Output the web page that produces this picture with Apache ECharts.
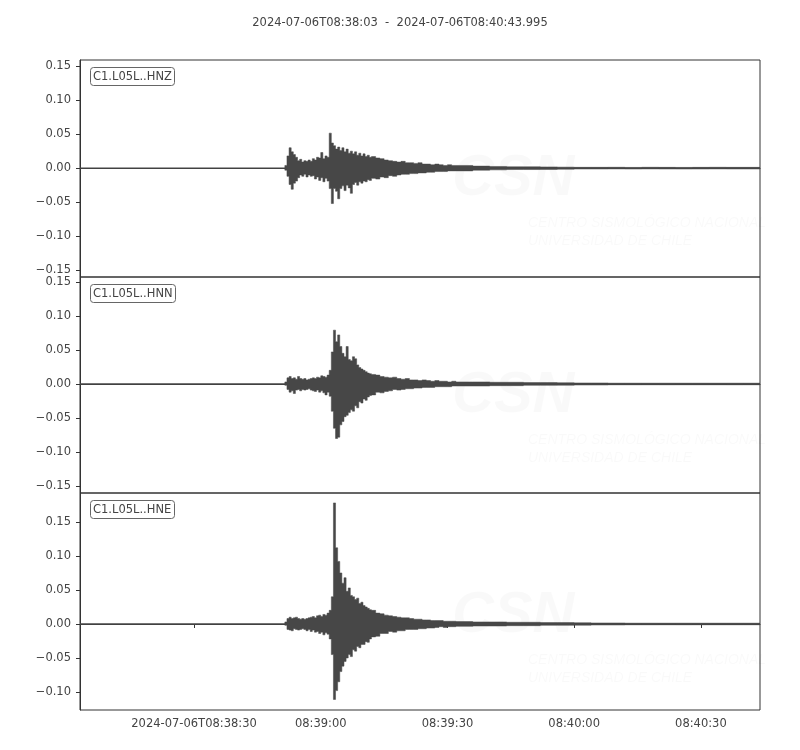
<!DOCTYPE html>
<html>
<head>
<meta charset="utf-8">
<script src="https://cdn.jsdelivr.net/npm/echarts@6/dist/echarts.min.js"></script>
<style>
  html, body { margin: 0; padding: 0; background: #fff; }
  #chart { width: 800px; height: 750px; }
</style>
</head>
<body>
<div id="chart"></div>
<script>
// seconds after 08:38:00
const tStart = 3;
const tEnd = 163.995;
const titleText = '2024-07-06T08:38:03  -  2024-07-06T08:40:43.995';
const channels = ['C1.L05L..HNZ', 'C1.L05L..HNN', 'C1.L05L..HNE'];

const xTickValues = [30, 60, 90, 120, 150];
const xTickLabels = ['2024-07-06T08:38:30', '08:39:00', '08:39:30', '08:40:00', '08:40:30'];

const yRanges = [[-0.160, 0.159], [-0.160, 0.157], [-0.1265, 0.1926]];
const yTicks = [
  [-0.15, -0.1, -0.05, 0, 0.05, 0.1, 0.15],
  [-0.15, -0.1, -0.05, 0, 0.05, 0.1, 0.15],
  [-0.1, -0.05, 0, 0.05, 0.1, 0.15]
];

// envelope bins (start time, s after 08:38:00); each bin ends where the next starts
const binStart = [
  51.5, 52, 52.5, 53, 53.5, 54, 54.5, 55, 55.5, 56, 56.5, 57, 57.5, 58, 58.5, 59, 59.5, 60, 60.5, 61,
  61.5, 62, 62.5, 63, 63.5, 64, 64.5, 65, 65.5, 66, 66.5, 67, 67.5, 68, 68.5, 69, 69.5, 70, 70.5, 71, 71.5,
  72, 73, 74, 75, 76, 77, 78, 79, 80, 81, 82, 83, 84, 85, 86, 87, 88, 89, 90, 91,
  92, 96, 100, 104, 108, 112, 116, 120, 124, 128, 132, 136, 140, 144, 148, 152, 156, 160
];

const hnzUp = [
  0.004, 0.018, 0.030, 0.024, 0.020, 0.016, 0.011, 0.013, 0.009, 0.011, 0.010, 0.012, 0.010, 0.014, 0.012, 0.016, 0.015, 0.023, 0.014, 0.018,
  0.016, 0.0515, 0.037, 0.033, 0.028, 0.031, 0.026, 0.030, 0.024, 0.028, 0.022, 0.025, 0.021, 0.024, 0.019, 0.022, 0.018, 0.021, 0.017, 0.019, 0.016,
  0.017, 0.015, 0.014, 0.012, 0.011, 0.010, 0.009, 0.010, 0.008, 0.008, 0.007, 0.008, 0.006, 0.006, 0.005, 0.006, 0.005, 0.004, 0.005, 0.004,
  0.004, 0.003, 0.0025, 0.002, 0.002, 0.0018, 0.0015, 0.0012, 0.0012, 0.0012, 0.001, 0.0012, 0.001, 0.001, 0.001, 0.0012, 0.001, 0.001
];
const hnzLow = [
  -0.003, -0.012, -0.024, -0.031, -0.022, -0.019, -0.014, -0.010, -0.012, -0.009, -0.013, -0.010, -0.012, -0.011, -0.016, -0.013, -0.018, -0.014, -0.020, -0.015,
  -0.019, -0.030, -0.052, -0.030, -0.034, -0.045, -0.030, -0.026, -0.033, -0.025, -0.029, -0.037, -0.024, -0.021, -0.025, -0.020, -0.022, -0.019, -0.020, -0.017, -0.018,
  -0.015, -0.016, -0.013, -0.014, -0.011, -0.012, -0.010, -0.009, -0.009, -0.008, -0.008, -0.007, -0.007, -0.006, -0.006, -0.005, -0.005, -0.005, -0.004, -0.004,
  -0.004, -0.003, -0.0025, -0.002, -0.002, -0.0018, -0.0015, -0.0012, -0.0012, -0.001, -0.0012, -0.001, -0.001, -0.0012, -0.001, -0.001, -0.001, -0.001
];

const hnnUp = [
  0.003, 0.009, 0.011, 0.008, 0.009, 0.007, 0.011, 0.008, 0.007, 0.008, 0.006, 0.007, 0.008, 0.009, 0.008, 0.010, 0.009, 0.012, 0.011, 0.010,
  0.013, 0.020, 0.047, 0.079, 0.062, 0.072, 0.055, 0.045, 0.040, 0.055, 0.036, 0.034, 0.040, 0.037, 0.028, 0.024, 0.022, 0.020, 0.018, 0.016, 0.015,
  0.014, 0.013, 0.011, 0.010, 0.009, 0.010, 0.008, 0.007, 0.008, 0.006, 0.006, 0.005, 0.006, 0.005, 0.004, 0.005, 0.004, 0.004, 0.003, 0.004,
  0.003, 0.003, 0.0025, 0.0025, 0.002, 0.002, 0.0018, 0.0015, 0.0015, 0.0012, 0.0012, 0.001, 0.0012, 0.001, 0.001, 0.001, 0.0012, 0.001
];
const hnnLow = [
  -0.002, -0.008, -0.012, -0.010, -0.014, -0.009, -0.008, -0.010, -0.008, -0.009, -0.008, -0.007, -0.009, -0.010, -0.011, -0.009, -0.012, -0.010, -0.013, -0.016,
  -0.012, -0.018, -0.040, -0.065, -0.080, -0.078, -0.060, -0.055, -0.048, -0.046, -0.042, -0.038, -0.040, -0.032, -0.035, -0.026, -0.028, -0.022, -0.024, -0.019, -0.017,
  -0.016, -0.012, -0.013, -0.011, -0.010, -0.008, -0.009, -0.008, -0.007, -0.007, -0.006, -0.006, -0.005, -0.005, -0.005, -0.004, -0.004, -0.004, -0.004, -0.003,
  -0.003, -0.003, -0.0025, -0.0025, -0.002, -0.002, -0.0018, -0.0015, -0.0015, -0.0012, -0.0012, -0.001, -0.0012, -0.001, -0.001, -0.001, -0.0012, -0.001
];

const hneUp = [
  0.003, 0.008, 0.010, 0.008, 0.009, 0.010, 0.008, 0.007, 0.008, 0.007, 0.008, 0.009, 0.010, 0.011, 0.009, 0.012, 0.013, 0.011, 0.014, 0.013,
  0.016, 0.020, 0.040, 0.178, 0.112, 0.092, 0.075, 0.060, 0.068, 0.048, 0.053, 0.042, 0.040, 0.036, 0.038, 0.030, 0.032, 0.027, 0.025, 0.023, 0.021,
  0.020, 0.016, 0.015, 0.013, 0.012, 0.011, 0.010, 0.009, 0.009, 0.008, 0.007, 0.007, 0.006, 0.006, 0.005, 0.005, 0.005, 0.004, 0.004, 0.004,
  0.0035, 0.003, 0.003, 0.0025, 0.0025, 0.002, 0.002, 0.0018, 0.0015, 0.0015, 0.0012, 0.0012, 0.001, 0.0012, 0.001, 0.001, 0.001, 0.001
];
const hneLow = [
  -0.002, -0.008, -0.009, -0.010, -0.007, -0.008, -0.009, -0.008, -0.007, -0.008, -0.010, -0.008, -0.011, -0.009, -0.012, -0.011, -0.014, -0.012, -0.016, -0.013,
  -0.015, -0.022, -0.045, -0.111, -0.098, -0.085, -0.070, -0.062, -0.055, -0.050, -0.045, -0.048, -0.038, -0.040, -0.033, -0.035, -0.030, -0.030, -0.026, -0.027, -0.022,
  -0.019, -0.018, -0.014, -0.014, -0.011, -0.012, -0.010, -0.010, -0.008, -0.008, -0.008, -0.007, -0.007, -0.006, -0.006, -0.005, -0.004, -0.005, -0.004, -0.004,
  -0.0035, -0.003, -0.003, -0.0025, -0.0025, -0.002, -0.002, -0.0018, -0.0015, -0.0015, -0.0012, -0.0012, -0.001, -0.0012, -0.001, -0.001, -0.001, -0.001
];

const envelopes = [[hnzLow, hnzUp], [hnnLow, hnnUp], [hneLow, hneUp]];

const FONT = '"DejaVu Sans", sans-serif';
const INK = '#444';
const WAVE = '#474747';
const gridTops = [60, 277, 493];
const gridHeights = [217, 216, 217];

function binData(low, up) {
  return binStart.map((s, i) => [s, i + 1 < binStart.length ? binStart[i + 1] : tEnd, low[i], up[i]]);
}

// one filled polygon per panel: stepped upper envelope, back along the stepped lower one
function renderEnvelope(params, api) {
  if (params.dataIndex !== 0) return null;
  const n = binStart.length;
  const top = [];
  const bottom = [];
  for (let i = 0; i < n; i++) {
    const a = api.value(0, i), b = api.value(1, i);
    let yu = api.coord([a, api.value(3, i)])[1];
    let yl = api.coord([a, api.value(2, i)])[1];
    if (yl - yu < 1.6) {
      const c = (yl + yu) / 2;
      yu = c - 0.8; yl = c + 0.8;
    }
    const xa = api.coord([a, 0])[0];
    const xb = api.coord([b, 0])[0];
    top.push([xa, yu], [xb, yu]);
    bottom.push([xa, yl], [xb, yl]);
  }
  return {
    type: 'polygon',
    shape: { points: top.concat(bottom.reverse()) },
    style: { fill: WAVE, stroke: WAVE, lineWidth: 0.5 }
  };
}

const fmtY = v => (v < 0 ? '\u2212' : '') + Math.abs(v).toFixed(2);

const chart = echarts.init(document.getElementById('chart'), null, { renderer: 'canvas' });

const grid = gridTops.map((top, i) => ({
  left: 80, right: 40, top: top, height: gridHeights[i],
  show: true, borderColor: '#333', borderWidth: 1, backgroundColor: 'transparent'
}));

const xAxis = gridTops.map((_, i) => ({
  type: 'value', gridIndex: i, min: tStart, max: tEnd,
  splitLine: { show: false },
  axisLine: { show: true, lineStyle: { color: '#333', width: 1 } },
  axisTick: { show: i === 2, length: 4, customValues: xTickValues, lineStyle: { color: '#333' } },
  axisLabel: {
    show: i === 2, customValues: xTickValues, margin: 8,
    color: INK, fontFamily: FONT, fontSize: 11.5,
    formatter: v => xTickLabels[xTickValues.indexOf(v)] || ''
  }
}));

const yAxis = gridTops.map((_, i) => ({
  type: 'value', gridIndex: i, min: yRanges[i][0], max: yRanges[i][1],
  splitLine: { show: false },
  axisLine: { show: true, lineStyle: { color: '#333', width: 1 } },
  axisTick: { show: true, length: 4, customValues: yTicks[i], lineStyle: { color: '#333' } },
  axisLabel: {
    customValues: yTicks[i], margin: 9,
    color: INK, fontFamily: FONT, fontSize: 11.5, formatter: fmtY
  }
}));

const series = [];
envelopes.forEach(([low, up], i) => {
  series.push({
    type: 'line', xAxisIndex: i, yAxisIndex: i, symbol: 'none', silent: true,
    lineStyle: { color: WAVE, width: 1.4 },
    data: [[tStart, 0], [tEnd, 0]], z: 3
  });
  series.push({
    type: 'custom', xAxisIndex: i, yAxisIndex: i, silent: true, clip: true,
    renderItem: renderEnvelope,
    encode: { x: [0, 1], y: [2, 3] },
    data: binData(low, up), z: 4
  });
});

const title = [{
  text: titleText, left: 'center', top: 12,
  textStyle: { color: INK, fontFamily: FONT, fontSize: 11.5, fontWeight: 'normal' }
}].concat(channels.map((name, i) => ({
  text: name, left: 90, top: gridTops[i] + 7,
  padding: [4, 3, 3, 3], borderColor: '#666', borderWidth: 1, borderRadius: 3,
  backgroundColor: '#fff',
  textStyle: { color: INK, fontFamily: FONT, fontSize: 11.5, fontWeight: 'normal' }
})));

// faint CSN watermark in each panel
const wmOffsets = [0, 217, 437];
const WM = 'rgba(0,0,0,0.022)';
const graphic = [];
wmOffsets.forEach(dy => {
  graphic.push(
    { type: 'text', left: 452, top: 150 + dy, silent: true, z: 0,
      style: { text: 'CSN', fill: WM, font: 'italic bold 58px "Liberation Sans"' } },
    { type: 'text', left: 528, top: 216 + dy, silent: true, z: 0,
      style: { text: 'CENTRO SISMOLÓGICO NACIONAL', fill: WM, font: 'italic 14px "Liberation Sans Narrow", "Liberation Sans"' } },
    { type: 'text', left: 528, top: 234 + dy, silent: true, z: 0,
      style: { text: 'UNIVERSIDAD DE CHILE', fill: WM, font: 'italic 14px "Liberation Sans Narrow", "Liberation Sans"' } }
  );
});

chart.setOption({
  backgroundColor: '#fff',
  animation: false,
  title: title,
  grid: grid,
  xAxis: xAxis,
  yAxis: yAxis,
  graphic: graphic,
  series: series
});
</script>
</body>
</html>
